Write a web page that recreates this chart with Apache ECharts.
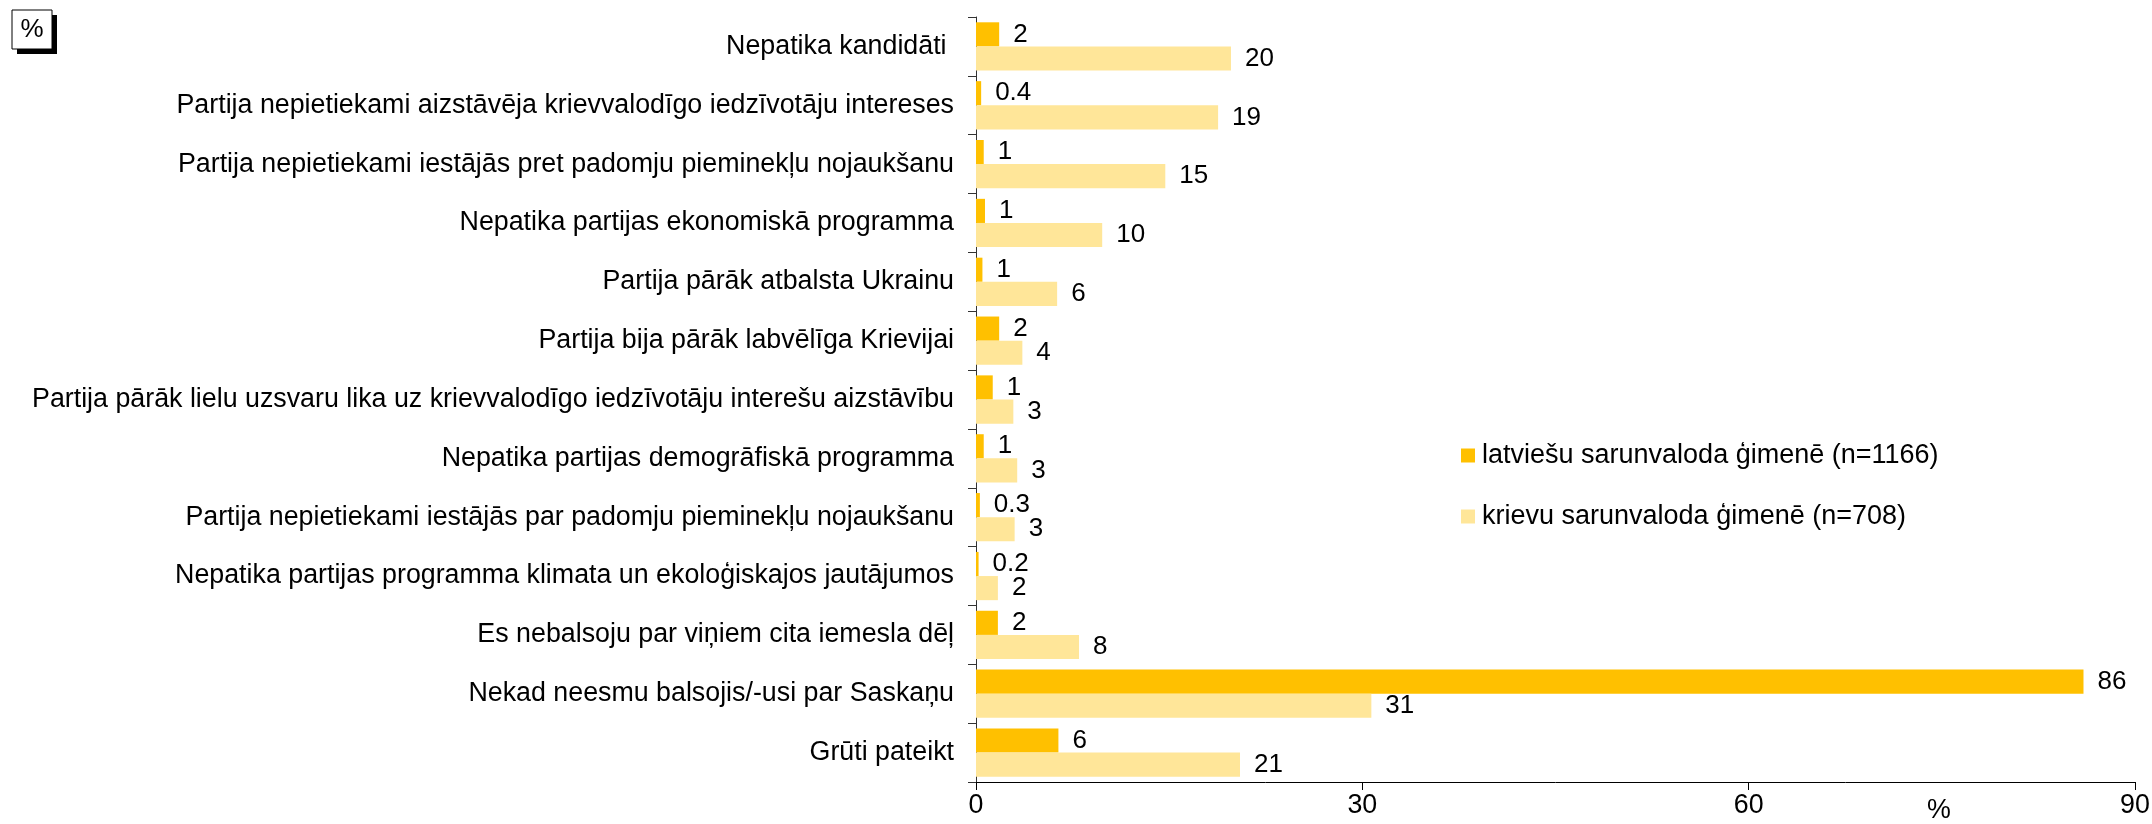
<!DOCTYPE html>
<html>
<head>
<meta charset="utf-8">
<script src="https://cdn.jsdelivr.net/npm/echarts@6/dist/echarts.min.js"></script>
<style>
  html, body { margin: 0; padding: 0; background: #fff; }
  #chart { width: 2152px; height: 824px; }
</style>
</head>
<body>
<div id="chart"></div>
<script>
// kategorijas (no augšas uz leju)
var categories = [
    'Nepatika kandidāti ',
    'Partija nepietiekami aizstāvēja krievvalodīgo iedzīvotāju intereses',
    'Partija nepietiekami iestājās pret padomju pieminekļu nojaukšanu',
    'Nepatika partijas ekonomiskā programma',
    'Partija pārāk atbalsta Ukrainu',
    'Partija bija pārāk labvēlīga Krievijai',
    'Partija pārāk lielu uzsvaru lika uz krievvalodīgo iedzīvotāju interešu aizstāvību',
    'Nepatika partijas demogrāfiskā programma',
    'Partija nepietiekami iestājās par padomju pieminekļu nojaukšanu',
    'Nepatika partijas programma klimata un ekoloģiskajos jautājumos',
    'Es nebalsoju par viņiem cita iemesla dēļ',
    'Nekad neesmu balsojis/-usi par Saskaņu',
    'Grūti pateikt'
]

var seriesNames = ['latviešu sarunvaloda ģimenē (n=1166)', 'krievu sarunvaloda ģimenē (n=708)']

// joslu garumi (nolasīti no attēla)
var latValues = [1.8, 0.4, 0.6, 0.7, 0.5, 1.8, 1.3, 0.6, 0.3, 0.2, 1.7, 86, 6.4]
var rusValues = [19.8, 18.8, 14.7, 9.8, 6.3, 3.6, 2.9, 3.2, 3.0, 1.7, 8.0, 30.7, 20.5]

// uzrakstītās vērtības
var latLabels = ['2', '0.4', '1', '1', '1', '2', '1', '1', '0.3', '0.2', '2', '86', '6']
var rusLabels = ['20', '19', '15', '10', '6', '4', '3', '3', '3', '2', '8', '31', '21']

var xTicks = { min: 0, max: 90, interval: 30 }

var font = "'Liberation Sans', Arial, sans-serif"
var fs = 26
var catFs = 26.8

var chart = echarts.init(document.getElementById('chart'))

function labelOf(arr) {
    return {
        show: true,
        position: 'right',
        distance: 14,
        fontSize: fs,
        fontFamily: font,
        color: '#000',
        formatter: function (p) { return arr[p.dataIndex] }
    }
}

chart.setOption({
    animation: false,
    textStyle: { fontFamily: font },
    color: ['#FFC000', '#FFE699'],
    grid: {
        left: 976,
        right: 17,
        top: 17,
        bottom: 42,
        outerBoundsMode: 'none'
    },
    legend: {
        orient: 'vertical',
        left: 1461,
        top: 442,
        padding: 0,
        itemWidth: 14,
        itemHeight: 14,
        itemGap: 34,
        icon: 'rect',
        textStyle: { fontSize: 27, fontFamily: font, color: '#000', lineHeight: 27, padding: [0, 0, 0, 2] },
        data: seriesNames
    },
    xAxis: {
        type: 'value',
        min: xTicks.min,
        max: xTicks.max,
        interval: xTicks.interval,
        splitLine: { show: false },
        minorTick: { show: false },
        axisLine: { show: true, lineStyle: { color: '#000', width: 1 } },
        axisTick: { show: true, length: 8, lineStyle: { color: '#000' } },
        axisLabel: { fontSize: catFs, fontFamily: font, color: '#000', margin: 10 }
    },
    yAxis: {
        type: 'category',
        inverse: true,
        data: categories,
        axisLine: { show: true, lineStyle: { color: '#333', width: 1 } },
        axisTick: { show: true, length: 8, lineStyle: { color: '#333' } },
        axisLabel: { fontSize: catFs, fontFamily: font, color: '#000', margin: 22 }
    },
    series: [
        {
            name: seriesNames[0],
            type: 'bar',
            data: latValues,
            barGap: '0%',
            barCategoryGap: '18%',
            label: labelOf(latLabels)
        },
        {
            name: seriesNames[1],
            type: 'bar',
            data: rusValues,
            barGap: '0%',
            barCategoryGap: '18%',
            label: labelOf(rusLabels)
        }
    ],
    graphic: [
        // % kastīte ar ēnu
        { type: 'rect', shape: { x: 17, y: 15, width: 40, height: 39 }, style: { fill: '#000' } },
        { type: 'rect', shape: { x: 12, y: 10, width: 40, height: 39 }, style: { fill: '#fff', stroke: '#000', lineWidth: 1 } },
        { type: 'text', x: 32, y: 30, style: { text: '%', fontSize: fs, fontFamily: font, fill: '#000', align: 'center', verticalAlign: 'middle' } },
        // ass nosaukums
        { type: 'text', x: 1939, y: 811, style: { text: '%', fontSize: catFs, fontFamily: font, fill: '#000', align: 'center', verticalAlign: 'middle' } }
    ]
})
</script>
</body>
</html>
